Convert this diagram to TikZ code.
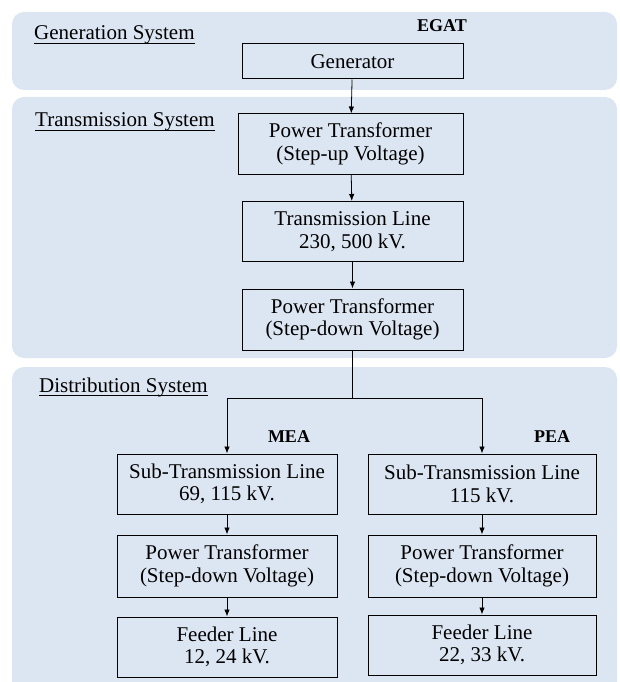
\documentclass[tikz,border=0pt]{standalone}
\usepackage{fontspec}
\setmainfont{Liberation Serif}
\usetikzlibrary{arrows.meta, positioning}
\definecolor{panelblue}{HTML}{DCE6F2}
\newcommand{\sysuline}[1]{\setbox0\hbox{#1}\rlap{\rule[-4pt]{\wd0}{1pt}}\box0}

\begin{document}
\begin{tikzpicture}[
    x=1pt, y=-1pt,
    panel/.style={fill=panelblue, rounded corners=12pt},
    unit/.style={
        draw, line width=1pt, inner sep=0pt, align=center,
        font=\fontsize{21}{22.5}\selectfont
    },
    head/.style={font=\fontsize{21}{22.5}\selectfont, anchor=base west, inner sep=0pt},
    owner/.style={font=\fontsize{18}{20}\selectfont\bfseries, anchor=base},
    flow/.style={-{Latex[length=7pt,width=5.5pt]}, line width=0.8pt}
]
\useasboundingbox (0,0) rectangle (619,682);

% the three system panels
\fill[panel] (12,12)  rectangle (617,90);
\fill[panel] (12,97)  rectangle (617,358);
\fill[panel] (12,367) rectangle (617,710);

\node[head] (genhead) at (34,40)   {\sysuline{Generation System}};
\node[head] (tshead)  at (35,127)  {\sysuline{Transmission System}};
\node[head] (dshead)  at (39,392)  {\sysuline{Distribution System}};

\node[owner] (egat) at (442,32)  {EGAT};
\node[owner] (mea)  at (289,442) {MEA};
\node[owner] (pea)  at (552,442) {PEA};

% generation and transmission chain
\node[unit, minimum width=221pt, minimum height=35pt] (gen) at (352.5,61.5) {Generator};
\node[unit, minimum width=225pt, minimum height=60pt] (ptup) at (350.5,144)
    {Power Transformer\\(Step-up Voltage)};
\node[unit, minimum width=221pt, minimum height=60pt] (tline) at (352.5,231.5)
    {Transmission Line\\230, 500 kV.};
\node[unit, minimum width=221pt, minimum height=61pt] (ptdown) at (352.5,319.5)
    {Power Transformer\\(Step-down Voltage)};

% MEA branch
\node[unit, minimum width=220pt, minimum height=60pt] (measub) at (227,484)
    {Sub-Transmission Line\\69, 115 kV.};
\node[unit, minimum width=220pt, minimum height=62pt] (meapt) at (227,566)
    {Power Transformer\\(Step-down Voltage)};
\node[unit, minimum width=220pt, minimum height=60pt] (meafeed) at (227,647)
    {Feeder Line\\12, 24 kV.};

% PEA branch
\node[unit, minimum width=228pt, minimum height=60pt] (peasub) at (482,484)
    {Sub-Transmission Line\\115 kV.};
\node[unit, minimum width=228pt, minimum height=62pt] (peapt) at (482,566)
    {Power Transformer\\(Step-down Voltage)};
\node[unit, minimum width=228pt, minimum height=60pt] (peafeed) at (482,645)
    {Feeder Line\\22, 33 kV.};

\coordinate (split) at (352.5,398);

\draw[flow] (gen) -- (ptup);
\draw[flow] (ptup) -- (tline);
\draw[flow] (tline) -- (ptdown);
\draw[line width=0.8pt] (ptdown) -- (split);
\draw[flow] (split) -| (measub.north);
\draw[flow] (split) -| (peasub.north);
\draw[flow] (measub) -- (meapt);
\draw[flow] (meapt) -- (meafeed);
\draw[flow] (peasub) -- (peapt);
\draw[flow] (peapt) -- (peafeed);

\end{tikzpicture}
\end{document}
